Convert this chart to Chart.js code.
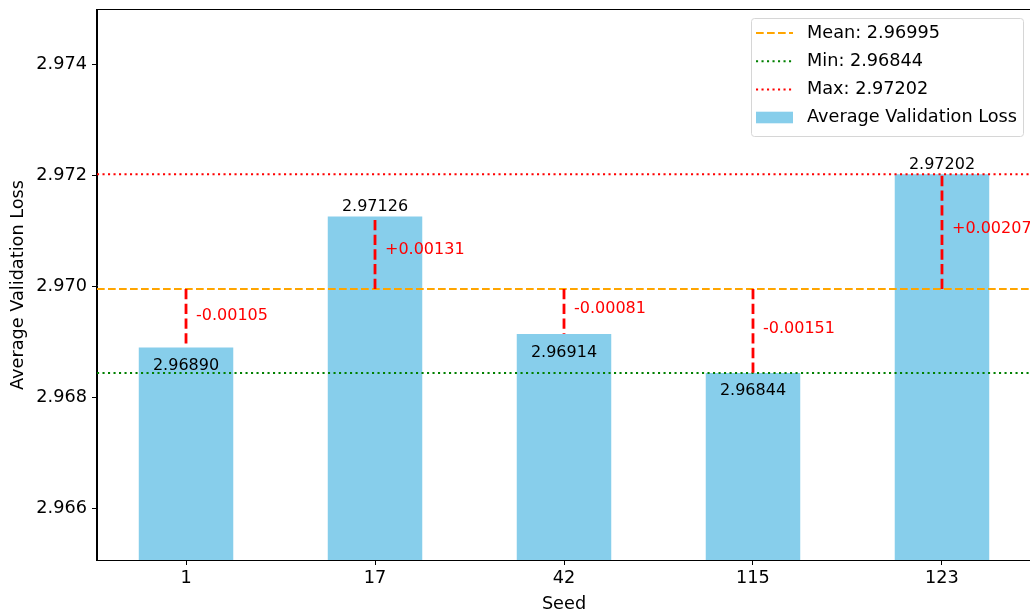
<!DOCTYPE html>
<html>
<head>
<meta charset="utf-8">
<script src="https://cdn.jsdelivr.net/npm/chart.js@4/dist/chart.umd.min.js"></script>
<style>
  html, body { margin: 0; padding: 0; background: #fff; overflow: hidden; }
  #wrap { width: 1030px; height: 611px; overflow: hidden; }
</style>
</head>
<body>
<div id="wrap"><canvas id="chart" width="1032" height="611"></canvas></div>
<script>
// Data
const seeds = ['1', '17', '42', '115', '123'];
const losses = [2.96890, 2.97126, 2.96914, 2.96844, 2.97202];
const yTicks = [2.966, 2.968, 2.970, 2.972, 2.974];
const yMin = 2.96507;
const yMax = 2.97498;
const xMin = -0.471;
const xMax = 4.471;

const meanLoss = losses.reduce((a, b) => a + b, 0) / losses.length;
const minLoss = Math.min(...losses);
const maxLoss = Math.max(...losses);

const FONT = "'DejaVu Sans', sans-serif";
const fontSize = 17.7;
const annSize = 16;

// helper: a horizontal line across the whole x range
const hline = (y) => [{ x: xMin, y: y }, { x: xMax, y: y }];

// Frame around the plot area (matplotlib spines)
const framePlugin = {
    id: 'frame',
    afterDraw(chart) {
        const { ctx, chartArea: a } = chart;
        ctx.save();
        ctx.strokeStyle = '#000';
        ctx.lineWidth = 1;
        ctx.strokeRect(a.left - 0.5, a.top - 0.5, a.right - a.left + 1, a.bottom - a.top + 1);
        ctx.restore();
    }
};

// Red dashed differences from the mean, value labels and difference labels
const annotatePlugin = {
    id: 'annotate',
    afterDatasetsDraw(chart) {
        const { ctx, scales: { x, y } } = chart;
        const yMean = y.getPixelForValue(meanLoss);
        ctx.save();
        losses.forEach((v, i) => {
            const px = x.getPixelForValue(i);
            const py = y.getPixelForValue(v);
            const diff = v - meanLoss;

            ctx.beginPath();
            ctx.strokeStyle = '#ff0000';
            ctx.lineWidth = 2.8;
            ctx.setLineDash([10.3, 4.4]);
            ctx.moveTo(px, yMean);
            ctx.lineTo(px, py);
            ctx.stroke();
            ctx.setLineDash([]);

            ctx.font = annSize + 'px ' + FONT;
            ctx.fillStyle = '#000';
            ctx.textAlign = 'center';
            ctx.textBaseline = 'alphabetic';
            ctx.fillText(v.toFixed(5), px, diff >= 0 ? py - 5 : py + 22.5);

            ctx.fillStyle = '#ff0000';
            ctx.textAlign = 'left';
            ctx.textBaseline = 'middle';
            const sign = diff >= 0 ? '+' : '';
            ctx.fillText(sign + diff.toFixed(5), px + 10, (yMean + py) / 2 - 2.5);
        });
        ctx.restore();
    }
};

// Legend box in the upper right, like matplotlib's
const legendPlugin = {
    id: 'mplLegend',
    afterDraw(chart) {
        const { ctx } = chart;
        const box = { left: 751, top: 18, right: 1023, bottom: 136 };
        ctx.save();
        ctx.beginPath();
        ctx.roundRect(box.left + 0.5, box.top + 0.5, box.right - box.left, box.bottom - box.top, 3);
        ctx.fillStyle = 'rgba(255,255,255,0.8)';
        ctx.fill();
        ctx.strokeStyle = '#d6d6d6';
        ctx.lineWidth = 1;
        ctx.stroke();

        const rows = [33, 61.2, 89.5, 117.5];
        const sets = chart.data.datasets;
        ctx.font = fontSize + 'px ' + FONT;
        ctx.textBaseline = 'middle';
        ctx.textAlign = 'left';
        sets.forEach((ds, i) => {
            const cy = rows[i];
            if (ds.type === 'line') {
                ctx.beginPath();
                ctx.strokeStyle = ds.borderColor;
                ctx.lineWidth = ds.borderWidth;
                ctx.setLineDash(ds.borderDash);
                ctx.moveTo(756, cy);
                ctx.lineTo(793, cy);
                ctx.stroke();
                ctx.setLineDash([]);
            } else {
                ctx.fillStyle = ds.backgroundColor;
                ctx.fillRect(756, cy - 5.8, 37, 11.6);
            }
            ctx.fillStyle = '#000';
            ctx.fillText(ds.label, 807, cy);
        });
        ctx.restore();
    }
};

new Chart(document.getElementById('chart'), {
    type: 'bar',
    data: {
        datasets: [
            {
                type: 'line',
                label: 'Mean: ' + meanLoss.toFixed(5),
                data: hline(meanLoss),
                borderColor: '#ffa500',
                borderWidth: 2.1,
                borderDash: [7.7, 3.3],
                pointRadius: 0,
                order: 1
            },
            {
                type: 'line',
                label: 'Min: ' + minLoss.toFixed(5),
                data: hline(minLoss),
                borderColor: '#008000',
                borderWidth: 2.1,
                borderDash: [2.1, 3.4],
                pointRadius: 0,
                order: 1
            },
            {
                type: 'line',
                label: 'Max: ' + maxLoss.toFixed(5),
                data: hline(maxLoss),
                borderColor: '#ff0000',
                borderWidth: 2.1,
                borderDash: [2.1, 3.4],
                pointRadius: 0,
                order: 1
            },
            {
                type: 'bar',
                label: 'Average Validation Loss',
                data: losses.map((v, i) => ({ x: i, y: v })),
                backgroundColor: '#87ceeb',
                barPercentage: 0.5,
                categoryPercentage: 1,
                order: 10
            }
        ]
    },
    options: {
        responsive: false,
        devicePixelRatio: 1,
        animation: false,
        layout: { padding: { top: 10, right: 1, left: 0, bottom: 0 } },
        plugins: {
            legend: { display: false },
            tooltip: { enabled: false }
        },
        scales: {
            x: {
                type: 'linear',
                min: xMin,
                max: xMax,
                offset: false,
                afterBuildTicks: (s) => { s.ticks = seeds.map((_, i) => ({ value: i })); },
                afterFit: (s) => { s.height = 51; s.paddingLeft = 0; s.paddingRight = 0; },
                ticks: {
                    callback: (v) => seeds[v],
                    color: '#000',
                    padding: 3,
                    font: { family: FONT, size: fontSize, lineHeight: 1.2 },
                    maxRotation: 0,
                    autoSkip: false
                },
                grid: { offset: false, drawOnChartArea: false, drawTicks: true, tickLength: 5, color: '#000' },
                border: { display: true, color: '#000' },
                title: {
                    display: true,
                    text: 'Seed',
                    color: '#000',
                    padding: { top: 0, bottom: 0 },
                    font: { family: FONT, size: fontSize, lineHeight: 0.8 }
                }
            },
            y: {
                min: yMin,
                max: yMax,
                afterBuildTicks: (s) => { s.ticks = yTicks.map((v) => ({ value: v })); },
                afterFit: (s) => { s.width = 97; s.paddingTop = 0; s.paddingBottom = 0; },
                ticks: {
                    callback: (v) => v.toFixed(3),
                    color: '#000',
                    padding: 5,
                    font: { family: FONT, size: fontSize }
                },
                grid: { drawOnChartArea: false, drawTicks: true, tickLength: 5, color: '#000' },
                border: { display: true, color: '#000' },
                title: {
                    display: true,
                    text: 'Average Validation Loss',
                    color: '#000',
                    padding: { top: 9.4, bottom: 0 },
                    font: { family: FONT, size: fontSize, lineHeight: 1 }
                }
            }
        }
    },
    plugins: [framePlugin, annotatePlugin, legendPlugin]
});
</script>
</body>
</html>
